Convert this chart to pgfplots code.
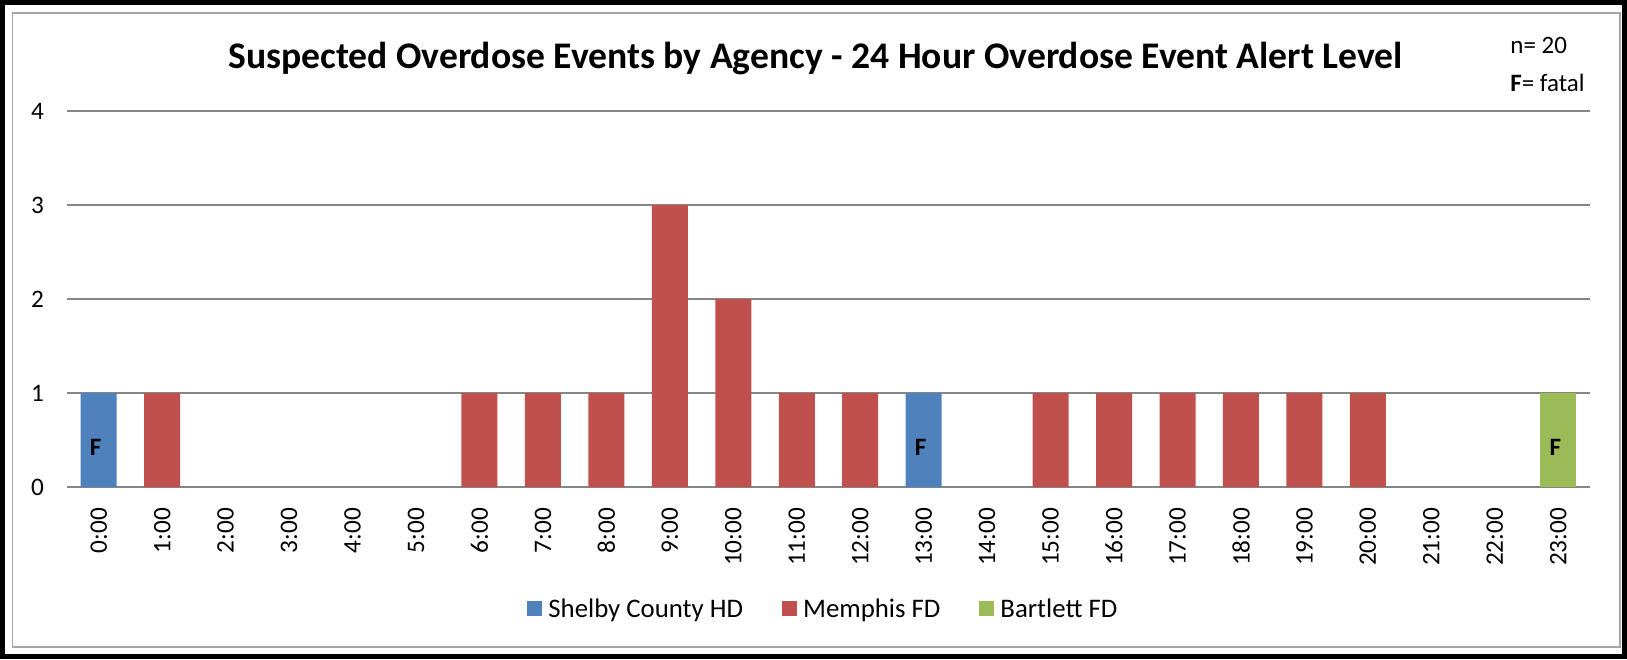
\documentclass[border=0pt]{standalone}
\usepackage{pgfplots}
\pgfplotsset{compat=1.18}
\usepackage{fontspec}
\setmainfont{Carlito}
\definecolor{sblue}{HTML}{4F81BD}
\definecolor{sred}{HTML}{C0504D}
\definecolor{sgreen}{HTML}{9BBB59}
\definecolor{gridgray}{HTML}{868686}
\begin{document}
\begin{tikzpicture}
\useasboundingbox (0,0) rectangle (813.5pt,329.5pt);
\fill[white] (0,0) rectangle (813.5pt,329.5pt);
\draw[line width=2.5pt] (1.25pt,1.25pt) rectangle (812.25pt,328.25pt);
\draw[gray!70, line width=0.9pt] (6.25pt,6pt) rectangle (810pt,323pt);
\begin{axis}[
  at={(33.5pt,86pt)}, anchor=south west,
  scale only axis, width=761.5pt, height=188pt,
  xmin=-0.5, xmax=23.5, ymin=0, ymax=4,
  xtick={0,...,23},
  xticklabels={0:00,1:00,2:00,3:00,4:00,5:00,6:00,7:00,8:00,9:00,10:00,11:00,12:00,13:00,14:00,15:00,16:00,17:00,18:00,19:00,20:00,21:00,22:00,23:00},
  ytick={0,1,2,3,4},
  axis line style={draw=none},
  ymajorgrids, major grid style={gridgray, line width=0.8pt},
  major tick length=0pt,
  /pgf/number format/assume math mode=true,
  ticklabel style={font=\fontsize{12.6}{14}\selectfont},
  xticklabel style={yshift=-7pt, rotate=90, anchor=east},
  yticklabel style={anchor=east, xshift=-8pt},
  legend style={at={(0.4973,-0.327)}, anchor=center, draw=none, fill=none,
    legend columns=3, font=\fontsize{13.4}{15}\selectfont,
    /tikz/every odd column/.append style={column sep=1pt},
    /tikz/every even column/.append style={column sep=17.5pt}},
  legend image code/.code={\fill[#1] (0pt,-2.8pt) rectangle (7.5pt,4.6pt);},
]
\addplot[ybar, bar shift=0pt, bar width=18pt, fill=sblue, draw=none] coordinates {(0,1) (13,1)};
\addlegendentry{Shelby County HD}
\addplot[ybar, bar shift=0pt, bar width=18pt, fill=sred, draw=none] coordinates {
(1,1) (6,1) (7,1) (8,1) (9,3) (10,2) (11,1) (12,1) (15,1) (16,1) (17,1) (18,1) (19,1) (20,1)};
\addlegendentry{Memphis FD}
\addplot[ybar, bar shift=0pt, bar width=18pt, fill=sgreen, draw=none] coordinates {(23,1)};
\addlegendentry{Bartlett FD}
\addplot[draw=none, mark=none, forget plot, nodes near coords={\textbf{F}},
  every node near coord/.append style={anchor=center, font=\fontsize{12.5}{14}\selectfont, xshift=-1.5pt}]
  coordinates {(0,0.42) (13,0.42) (23,0.42)};
\end{axis}
\node[anchor=base, font=\bfseries\fontsize{18.8}{22}\selectfont] at (407.8pt,295.25pt) {Suspected Overdose Events by Agency - 24 Hour Overdose Event Alert Level};
\node[anchor=base west, inner sep=0pt, font=\fontsize{12.5}{15}\selectfont] at (755pt,302.5pt) {n= 20};
\node[anchor=base west, inner sep=0pt, font=\fontsize{12.5}{15}\selectfont] at (755pt,283.9pt) {\textbf{F}= fatal};
\end{tikzpicture}
\end{document}
